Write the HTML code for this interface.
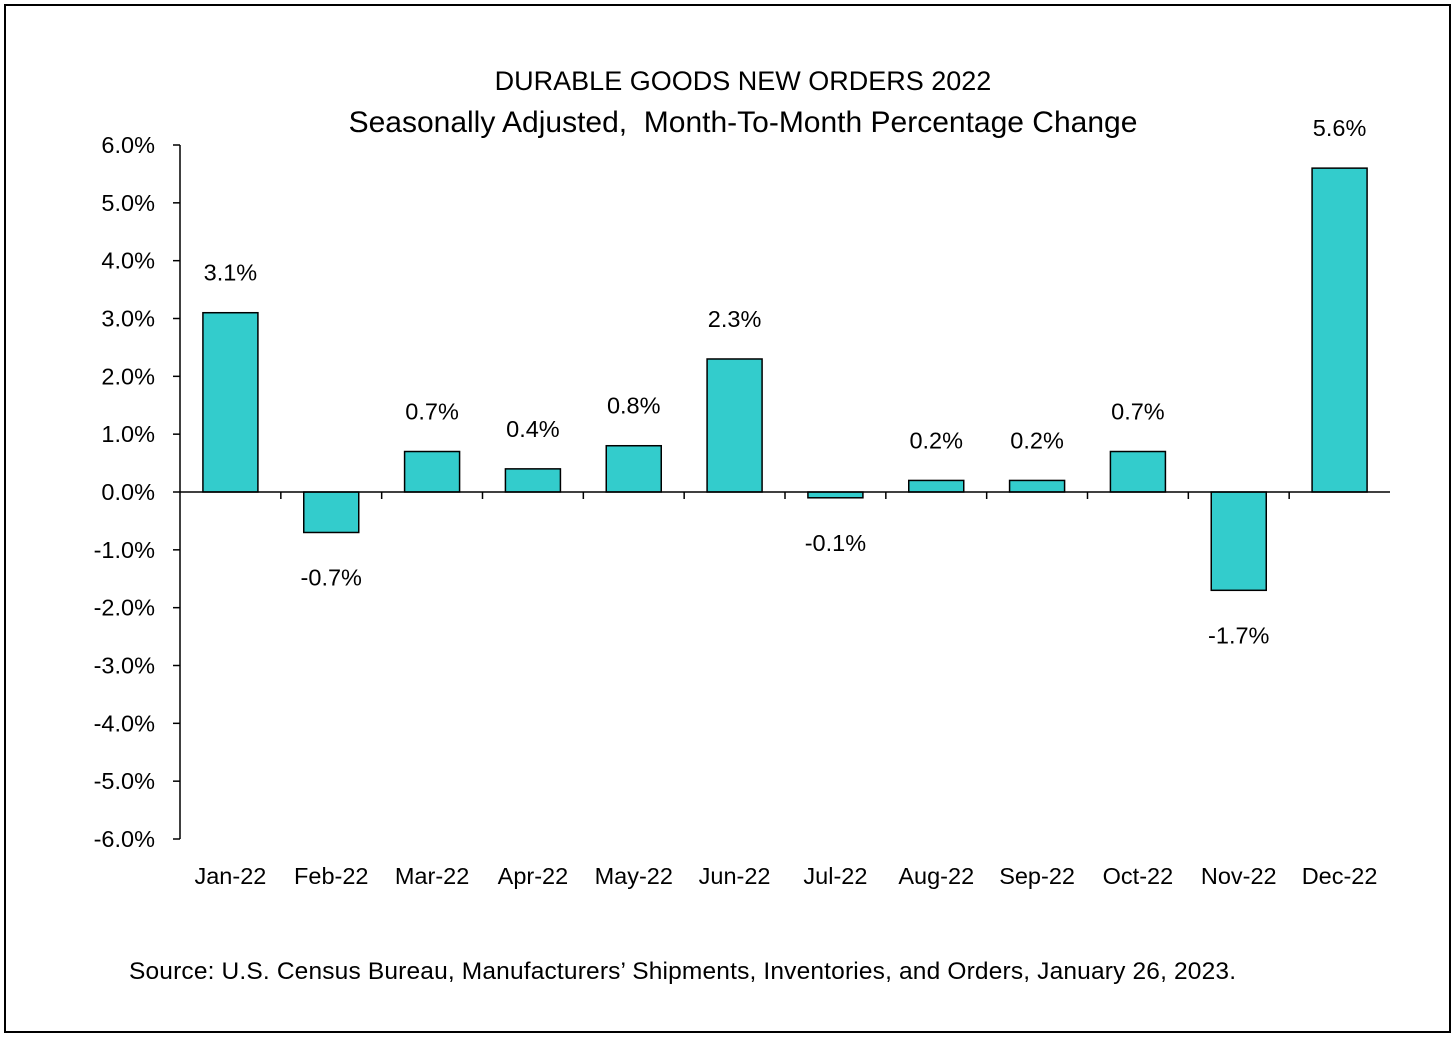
<!DOCTYPE html>
<html><head><meta charset="utf-8"><style>
body{margin:0;background:#fff}
svg{display:block;font-family:"Liberation Sans",Arial,sans-serif}
</style></head><body>
<svg id="chart" width="1456" height="1039">
<rect x="5" y="5" width="1445" height="1027" fill="#fff" stroke="#000" stroke-width="2"/>
<text x="743" y="90" text-anchor="middle" font-size="27">DURABLE GOODS NEW ORDERS 2022</text>
<text x="743" y="132" text-anchor="middle" font-size="30" style="white-space:pre">Seasonally Adjusted,&#160; Month-To-Month Percentage Change</text>
<g id="plot"></g>
<text x="129" y="979" font-size="24.5" textLength="1107">Source: U.S. Census Bureau, Manufacturers’ Shipments, Inventories, and Orders, January 26, 2023.</text>
</svg>
<script>
const categories=["Jan-22","Feb-22","Mar-22","Apr-22","May-22","Jun-22","Jul-22","Aug-22","Sep-22","Oct-22","Nov-22","Dec-22"];
const values=[3.1,-0.7,0.7,0.4,0.8,2.3,-0.1,0.2,0.2,0.7,-1.7,5.6];
const yTicks=[6,5,4,3,2,1,0,-1,-2,-3,-4,-5,-6];
const NS="http://www.w3.org/2000/svg";
const g=document.getElementById('plot');
const x0=180,x1=1390,yTop=145,yBot=839,yMax=6,yMin=-6;
const y=v=>yTop+(yMax-v)/(yMax-yMin)*(yBot-yTop);
const bw=(x1-x0)/categories.length;
const xc=i=>x0+bw*(i+0.5);
function mk(tag,attrs){const e=document.createElementNS(NS,tag);for(const k in attrs)e.setAttribute(k,attrs[k]);g.appendChild(e);return e;}
let ax=mk('line',{x1:x0,y1:yTop,x2:x0,y2:yBot,stroke:'#000','stroke-width':1.5});


yTicks.forEach(t=>{
 const tk=mk('line',{x1:x0-7,y1:y(t),x2:x0,y2:y(t),stroke:'#000','stroke-width':1.5});
 
 
 const tl=mk('text',{x:155,y:y(t)+8,'text-anchor':'end','font-size':23.5});
 tl.textContent=t.toFixed(1)+'%';
 
 
});
categories.forEach((c,i)=>{
 const v=values[i];
 const top=y(Math.max(v,0)),bot=y(Math.min(v,0));
 const b=mk('rect',{x:xc(i)-27.5,y:top,width:55,height:bot-top,fill:'#33CCCC',stroke:'#000','stroke-width':1.5});
 
 
 const l=mk('text',{x:xc(i),y:v>=0?top-32:bot+53,'text-anchor':'middle','font-size':23.5});
 l.textContent=v.toFixed(1)+'%';
 
 
 const cl=mk('text',{x:xc(i),y:884,'text-anchor':'middle','font-size':23.5});
 cl.textContent=c;
 
 
 if(i>0){const tk=mk('line',{x1:x0+bw*i,y1:y(0),x2:x0+bw*i,y2:y(0)+7,stroke:'#000','stroke-width':1.5});
 
 }
});
const xa=mk('line',{x1:x0,y1:y(0),x2:x1,y2:y(0),stroke:'#000','stroke-width':1.5});


</script>
</body></html>
